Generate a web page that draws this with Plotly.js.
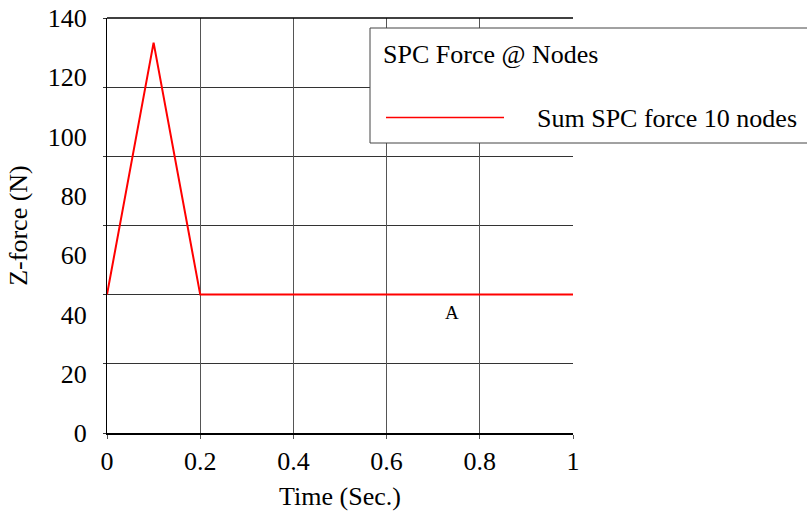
<!DOCTYPE html>
<html>
<head>
<meta charset="utf-8">
<script src="https://cdn.plot.ly/plotly-3.0.1.min.js"></script>
<style>html,body{margin:0;padding:0;background:#fff;}#chart{width:807px;height:518px;}</style>
</head>
<body>
<div id="chart"></div>
<script>
// Data
const timeSec = [0, 0.1, 0.2, 1.0];
const zForceN = [46.7, 131.7, 46.7, 46.7];
const yTickVals = [0, 20, 40, 60, 80, 100, 120, 140];
const yTickText = ["0", "20", "40", "60", "80", "100", "120", "140"];
const xTickVals = [0, 0.2, 0.4, 0.6, 0.8, 1];
const xTickText = ["0", "0.2", "0.4", "0.6", "0.8", "1"];
const seriesName = "Sum SPC force 10 nodes";
const legendTitle = "SPC Force @ Nodes";

const FONT = "Liberation Serif";
const FS = 26;

const trace = {
  x: timeSec, y: zForceN, type: "scatter", mode: "lines",
  name: seriesName, line: {color: "#ff0000", width: 2}, showlegend: false,
  hoverinfo: "skip"
};

const layout = {
  width: 807, height: 518,
  margin: {l: 107, r: 234, t: 18, b: 85},
  paper_bgcolor: "#fff", plot_bgcolor: "#fff",
  font: {family: FONT, size: FS, color: "#000"},
  showlegend: false,
  xaxis: {
    range: [0, 1], tickvals: xTickVals, ticktext: xTickText,
    showgrid: true, gridcolor: "#555", gridwidth: 1,
    zeroline: false, showline: true, linecolor: "#000", linewidth: 2,
    ticks: "outside", ticklen: 4, tickcolor: "#555",
    tickfont: {family: FONT, size: FS},
    title: {text: "Time (Sec.)", font: {family: FONT, size: FS}, standoff: 12},
    automargin: "bottom", fixedrange: true
  },
  yaxis: {
    range: [0, 140], tickvals: yTickVals, ticktext: yTickText,
    showgrid: false, zeroline: false, showline: true, linecolor: "#000", linewidth: 1,
    ticks: "", ticklabelstandoff: 14,
    tickfont: {family: FONT, size: FS},
    title: {text: "Z-force (N)", font: {family: FONT, size: FS}, standoff: 12},
    minor: {tickmode: "linear", tick0: 0, dtick: 140 / 6, showgrid: true,
            gridcolor: "#333", gridwidth: 1, ticks: "outside", ticklen: 3, tickcolor: "#333"},
    automargin: "left", fixedrange: true
  },
  shapes: [
    // top frame line
    {type: "line", xref: "paper", yref: "paper", x0: 0, x1: 1, y0: 1, y1: 1,
     line: {color: "#000", width: 1.5}},
    // legend box
    {type: "rect", xref: "paper", yref: "paper",
     x0: (370 - 107) / 466, x1: (810 - 107) / 466,
     y0: (433 - 143) / 415, y1: (433 - 28) / 415,
     line: {color: "#444", width: 1}, fillcolor: "#fff", layer: "above"},
    // legend sample line
    {type: "line", xref: "paper", yref: "paper",
     x0: (386 - 107) / 466, x1: (504 - 107) / 466,
     y0: (433 - 117.5) / 415, y1: (433 - 117.5) / 415,
     line: {color: "#ff0000", width: 1.5}, layer: "above"}
  ],
  annotations: [
    {xref: "paper", yref: "paper", x: (381 - 107) / 466, y: (433 - 55) / 415,
     xanchor: "left", yanchor: "middle", showarrow: false,
     text: legendTitle, font: {family: FONT, size: FS}},
    {xref: "paper", yref: "paper", x: (535 - 107) / 466, y: (433 - 118) / 415,
     xanchor: "left", yanchor: "middle", showarrow: false,
     text: seriesName, font: {family: FONT, size: FS}},
    {xref: "x", yref: "y", x: 0.74, y: 40.8, text: "A", showarrow: false,
     font: {family: FONT, size: 19}}
  ]
};

Plotly.newPlot("chart", [trace], layout, {staticPlot: true, displayModeBar: false});
</script>
</body>
</html>
